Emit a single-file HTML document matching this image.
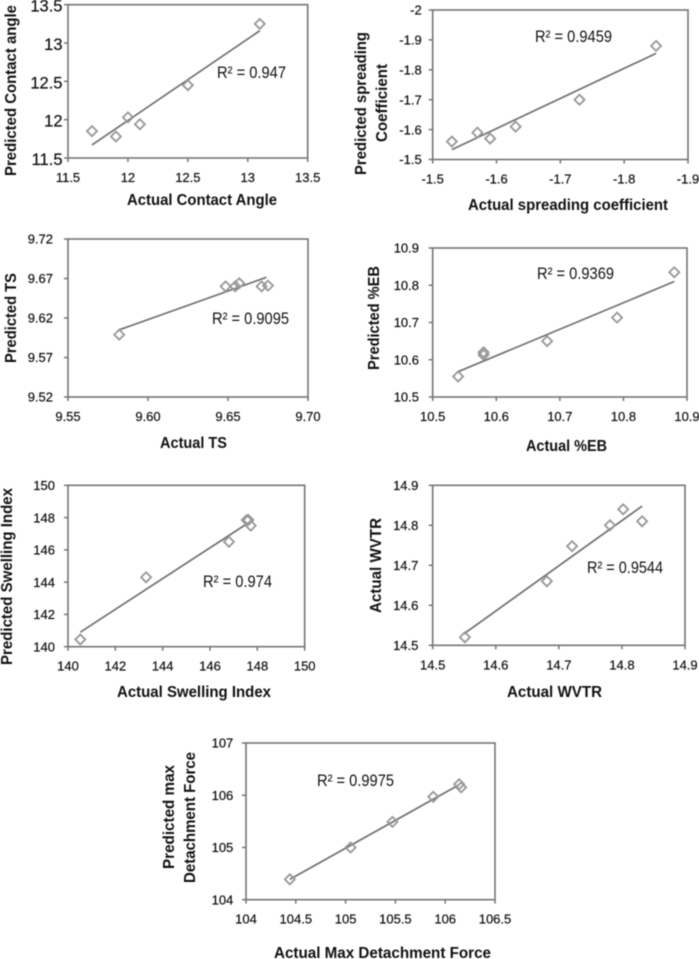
<!DOCTYPE html>
<html lang="en">
<head>
<meta charset="utf-8">
<title>Predicted versus actual regression charts</title>
<style>
  html, body { margin: 0; padding: 0; background: #fff; }
  #figure { display: block; width: 699px; height: 959px; filter: blur(0.45px); }
  text { font-family: "Liberation Sans", sans-serif; fill: #111; }
  .axis-title { font-weight: bold; font-size: 15.5px; }
  .r2 { font-size: 17px; }
</style>
</head>
<body>
<svg id="figure" xmlns="http://www.w3.org/2000/svg" width="699" height="959" viewBox="0 0 699 959">
  <rect x="0" y="0" width="699" height="959" fill="#fff"/>
  <g id="marks"></g>

  <text class="axis-title" x="127" y="205" textLength="150" lengthAdjust="spacingAndGlyphs">Actual Contact Angle</text>
  <text class="axis-title" transform="translate(16 176) rotate(-90)" textLength="171" lengthAdjust="spacingAndGlyphs" style="font-size:16px">Predicted Contact angle</text>
  <text class="r2" x="217" y="78" textLength="69" lengthAdjust="spacingAndGlyphs">R² = 0.947</text>

  <text class="axis-title" x="468" y="210" textLength="200" lengthAdjust="spacingAndGlyphs">Actual spreading coefficient</text>
  <text class="axis-title" transform="translate(366 175) rotate(-90)" textLength="143" lengthAdjust="spacingAndGlyphs">Predicted spreading</text>
  <text class="axis-title" transform="translate(387 142) rotate(-90)" textLength="78" lengthAdjust="spacingAndGlyphs">Coefficient</text>
  <text class="r2" x="535" y="42" textLength="77" lengthAdjust="spacingAndGlyphs">R² = 0.9459</text>

  <text class="axis-title" x="160" y="448" textLength="67" lengthAdjust="spacingAndGlyphs">Actual TS</text>
  <text class="axis-title" transform="translate(16 363) rotate(-90)" textLength="90" lengthAdjust="spacingAndGlyphs">Predicted TS</text>
  <text class="r2" x="212" y="324" textLength="77" lengthAdjust="spacingAndGlyphs">R² = 0.9095</text>

  <text class="axis-title" x="526" y="451" textLength="81" lengthAdjust="spacingAndGlyphs">Actual %EB</text>
  <text class="axis-title" transform="translate(379 370) rotate(-90)" textLength="104" lengthAdjust="spacingAndGlyphs">Predicted %EB</text>
  <text class="r2" x="537" y="279" textLength="77" lengthAdjust="spacingAndGlyphs">R² = 0.9369</text>

  <text class="axis-title" x="117" y="697" textLength="154" lengthAdjust="spacingAndGlyphs">Actual Swelling Index</text>
  <text class="axis-title" transform="translate(12 665) rotate(-90)" textLength="177" lengthAdjust="spacingAndGlyphs">Predicted Swelling Index</text>
  <text class="r2" x="203" y="587" textLength="69" lengthAdjust="spacingAndGlyphs">R² = 0.974</text>

  <text class="axis-title" x="507" y="697" textLength="95" lengthAdjust="spacingAndGlyphs">Actual WVTR</text>
  <text class="axis-title" transform="translate(381 613) rotate(-90)" textLength="95" lengthAdjust="spacingAndGlyphs">Actual WVTR</text>
  <text class="r2" x="587" y="573" textLength="76" lengthAdjust="spacingAndGlyphs">R² = 0.9544</text>

  <text class="axis-title" x="274" y="958" textLength="217" lengthAdjust="spacingAndGlyphs">Actual Max Detachment Force</text>
  <text class="axis-title" transform="translate(174 869) rotate(-90)" textLength="104" lengthAdjust="spacingAndGlyphs">Predicted max</text>
  <text class="axis-title" transform="translate(195 883) rotate(-90)" textLength="131" lengthAdjust="spacingAndGlyphs">Detachment Force</text>
  <text class="r2" x="317" y="786" textLength="77" lengthAdjust="spacingAndGlyphs">R² = 0.9975</text>
</svg>

<script>
const contactActual = [11.7, 11.9, 12, 12.1, 12.5, 13.1];
const contactPredicted = [11.85, 11.78, 12.03, 11.94, 12.45, 13.25];
const contactFitX = [11.7, 13.1];
const contactFitY = [11.67, 13.16];
const contactXTicks = ['11.5', '12', '12.5', '13', '13.5'];
const contactYTicks = ['11.5', '12', '12.5', '13', '13.5'];

const spreadingActual = [-1.53, -1.57, -1.59, -1.63, -1.73, -1.85];
const spreadingPredicted = [-1.56, -1.59, -1.57, -1.61, -1.70, -1.88];
const spreadingFitX = [-1.53, -1.85];
const spreadingFitY = [-1.533, -1.855];
const spreadingXTicks = ['-1.5', '-1.6', '-1.7', '-1.8', '-1.9'];
const spreadingYTicks = ['-1.5', '-1.6', '-1.7', '-1.8', '-1.9', '-2'];

const tsActual = [9.582, 9.6485, 9.6545, 9.657, 9.671, 9.675];
const tsPredicted = [9.599, 9.660, 9.660, 9.664, 9.660, 9.661];
const tsFitX = [9.582, 9.674];
const tsFitY = [9.605, 9.6715];
const tsXTicks = ['9.55', '9.60', '9.65', '9.70'];
const tsYTicks = ['9.52', '9.57', '9.62', '9.67', '9.72'];

const ebActual = [10.54, 10.58, 10.58, 10.68, 10.79, 10.88];
const ebPredicted = [10.555, 10.62, 10.613, 10.65, 10.713, 10.835];
const ebFitX = [10.54, 10.88];
const ebFitY = [10.568, 10.81];
const ebXTicks = ['10.5', '10.6', '10.7', '10.8', '10.9'];
const ebYTicks = ['10.5', '10.6', '10.7', '10.8', '10.9'];

const swellingActual = [140.52, 143.3, 146.8, 147.55, 147.62, 147.72];
const swellingPredicted = [140.45, 144.3, 146.5, 147.85, 147.85, 147.5];
const swellingFitX = [140.52, 147.7];
const swellingFitY = [140.9, 147.75];
const swellingXTicks = ['140', '142', '144', '146', '148', '150'];
const swellingYTicks = ['140', '142', '144', '146', '148', '150'];

const wvtrActual = [14.551, 14.681, 14.721, 14.781, 14.802, 14.832];
const wvtrPredicted = [14.52, 14.66, 14.748, 14.8, 14.84, 14.81];
const wvtrFitX = [14.549, 14.832];
const wvtrFitY = [14.528, 14.848];
const wvtrXTicks = ['14.5', '14.6', '14.7', '14.8', '14.9'];
const wvtrYTicks = ['14.5', '14.6', '14.7', '14.8', '14.9'];

const detachmentActual = [104.44, 105.05, 105.47, 105.88, 106.14, 106.16];
const detachmentPredicted = [104.39, 105.0, 105.49, 105.97, 106.21, 106.15];
const detachmentFitX = [104.44, 106.14];
const detachmentFitY = [104.39, 106.2];
const detachmentXTicks = ['104', '104.5', '105', '105.5', '106', '106.5'];
const detachmentYTicks = ['104', '105', '106', '107'];

const charts = [
  { name: 'contact-angle', xs: contactActual, ys: contactPredicted, fitX: contactFitX, fitY: contactFitY, xTicks: contactXTicks, yTicks: contactYTicks, left: 68, right: 307.7, top: 4.7, bottom: 158, yGap: 5.5, yFont: 16.5, yShift: 1 },
  { name: 'spreading', xs: spreadingActual, ys: spreadingPredicted, fitX: spreadingFitX, fitY: spreadingFitY, xTicks: spreadingXTicks, yTicks: spreadingYTicks, left: 432.7, right: 688, top: 10, bottom: 159.5, yGap: 11, yFont: 13, yShift: 0 },
  { name: 'ts', xs: tsActual, ys: tsPredicted, fitX: tsFitX, fitY: tsFitY, xTicks: tsXTicks, yTicks: tsYTicks, left: 68, right: 308, top: 239, bottom: 397, yGap: 15, yFont: 13, yShift: 0 },
  { name: 'eb', xs: ebActual, ys: ebPredicted, fitX: ebFitX, fitY: ebFitY, xTicks: ebXTicks, yTicks: ebYTicks, left: 432.7, right: 687, top: 248, bottom: 397, yGap: 13.7, yFont: 13, yShift: 0 },
  { name: 'swelling', xs: swellingActual, ys: swellingPredicted, fitX: swellingFitX, fitY: swellingFitY, xTicks: swellingXTicks, yTicks: swellingYTicks, left: 68, right: 304.7, top: 485.3, bottom: 646.7, yGap: 13, yFont: 13, yShift: 0 },
  { name: 'wvtr', xs: wvtrActual, ys: wvtrPredicted, fitX: wvtrFitX, fitY: wvtrFitY, xTicks: wvtrXTicks, yTicks: wvtrYTicks, left: 432.7, right: 685, top: 485.3, bottom: 645.3, yGap: 14.3, yFont: 13, yShift: 0 },
  { name: 'detachment', xs: detachmentActual, ys: detachmentPredicted, fitX: detachmentFitX, fitY: detachmentFitY, xTicks: detachmentXTicks, yTicks: detachmentYTicks, left: 246, right: 495, top: 743, bottom: 899.7, yGap: 12.7, yFont: 13, yShift: 0 }
];

const SVG_NS = 'http://www.w3.org/2000/svg';
const AXIS_COLOR = '#757575';
const TREND_COLOR = '#707070';
const MARKER_COLOR = '#979797';
const TICK_LENGTH = 4;
const MARKER_RADIUS = 5;
const marksLayer = document.getElementById('marks');

function makeScale(domainStart, domainEnd, rangeStart, rangeEnd) {
  return function (value) {
    return rangeStart + (value - domainStart) / (domainEnd - domainStart) * (rangeEnd - rangeStart);
  };
}

function drawLine(parent, x1, y1, x2, y2, color, width) {
  const line = document.createElementNS(SVG_NS, 'line');
  line.setAttribute('x1', x1);
  line.setAttribute('y1', y1);
  line.setAttribute('x2', x2);
  line.setAttribute('y2', y2);
  line.setAttribute('stroke', color);
  line.setAttribute('stroke-width', width);
  parent.appendChild(line);
  return line;
}

charts.forEach(function (chart) {
  const group = document.createElementNS(SVG_NS, 'g');
  
  
  marksLayer.appendChild(group);

  const xScale = makeScale(parseFloat(chart.xTicks[0]), parseFloat(chart.xTicks[chart.xTicks.length - 1]), chart.left, chart.right);
  const yScale = makeScale(parseFloat(chart.yTicks[0]), parseFloat(chart.yTicks[chart.yTicks.length - 1]), chart.bottom, chart.top);

  const frame = document.createElementNS(SVG_NS, 'rect');
  frame.setAttribute('x', chart.left);
  frame.setAttribute('y', chart.top);
  frame.setAttribute('width', chart.right - chart.left);
  frame.setAttribute('height', chart.bottom - chart.top);
  frame.setAttribute('fill', 'none');
  frame.setAttribute('stroke', AXIS_COLOR);
  frame.setAttribute('stroke-width', '1.6');
  
  
  group.appendChild(frame);

  chart.xTicks.forEach(function (label) {
    const px = xScale(parseFloat(label));
    const tick = drawLine(group, px, chart.bottom, px, chart.bottom + TICK_LENGTH, AXIS_COLOR, 1.5);
    
    
    const text = document.createElementNS(SVG_NS, 'text');
    text.setAttribute('x', px);
    text.setAttribute('y', chart.bottom + 24);
    text.setAttribute('text-anchor', 'middle');
    text.setAttribute('font-size', '13');
    text.setAttribute('stroke', '#111');
    text.setAttribute('stroke-width', '0.2');
    
    
    text.textContent = label;
    group.appendChild(text);
  });

  chart.yTicks.forEach(function (label) {
    const py = yScale(parseFloat(label));
    const tick = drawLine(group, chart.left - TICK_LENGTH, py, chart.left, py, AXIS_COLOR, 1.5);
    
    
    const text = document.createElementNS(SVG_NS, 'text');
    text.setAttribute('x', chart.left - chart.yGap);
    text.setAttribute('y', py + chart.yFont * 0.36 + chart.yShift);
    text.setAttribute('text-anchor', 'end');
    text.setAttribute('font-size', chart.yFont);
    text.setAttribute('stroke', '#111');
    text.setAttribute('stroke-width', '0.2');
    
    
    text.textContent = label;
    group.appendChild(text);
  });

  const trend = drawLine(group, xScale(chart.fitX[0]), yScale(chart.fitY[0]), xScale(chart.fitX[1]), yScale(chart.fitY[1]), TREND_COLOR, 1.7);
  
  

  chart.xs.forEach(function (xValue, index) {
    const cx = xScale(xValue);
    const cy = yScale(chart.ys[index]);
    const marker = document.createElementNS(SVG_NS, 'path');
    marker.setAttribute('d', 'M' + (cx - MARKER_RADIUS) + ' ' + cy + 'L' + cx + ' ' + (cy - MARKER_RADIUS) + 'L' + (cx + MARKER_RADIUS) + ' ' + cy + 'L' + cx + ' ' + (cy + MARKER_RADIUS) + 'Z');
    marker.setAttribute('fill', 'none');
    marker.setAttribute('stroke', MARKER_COLOR);
    marker.setAttribute('stroke-width', '1.8');
    
    
    group.appendChild(marker);
  });
});
</script>
</body>
</html>
